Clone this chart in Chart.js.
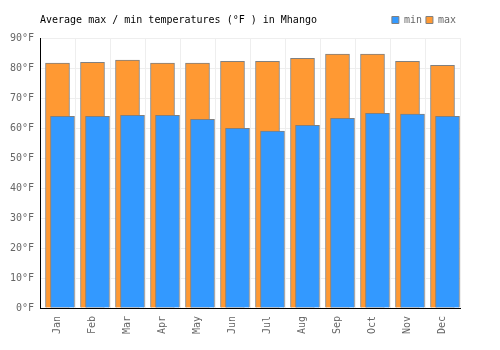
<!DOCTYPE html>
<html>
<head>
<meta charset="utf-8">
<script src="https://cdn.jsdelivr.net/npm/chart.js@4"></script>
<style>
  body { margin: 0; background: #fff; }
</style>
</head>
<body>
<canvas id="tempChart" width="500" height="350"></canvas>
<script>
const months = ["Jan", "Feb", "Mar", "Apr", "May", "Jun", "Jul", "Aug", "Sep", "Oct", "Nov", "Dec"];
const minTemps = [63.9, 63.9, 64.2, 64.2, 62.9, 59.9, 59.0, 60.9, 63.2, 64.9, 64.6, 63.9];
const maxTemps = [81.6, 81.9, 82.6, 81.6, 81.6, 82.2, 82.2, 83.2, 84.6, 84.6, 82.2, 80.9];
const yTicks = [0, 10, 20, 30, 40, 50, 60, 70, 80, 90];
const titleText = "Average max / min temperatures (°F ) in Mhango";

const monoFont = '"DejaVu Sans Mono", monospace';
const shift = 5 / 35; // min bars sit 5px right of the max bars

// title sits on the same line as the legend, on the left
const leftTitle = {
  id: 'leftTitle',
  afterDraw(chart) {
    const c = chart.ctx;
    c.save();
    c.font = '10px ' + monoFont;
    c.fillStyle = '#000';
    c.textBaseline = 'middle';
    c.textAlign = 'left';
    c.fillText(titleText, 40, 20);
    c.restore();
  }
};

const ctx = document.getElementById("tempChart").getContext("2d");
new Chart(ctx, {
  type: "bar",
  data: {
    labels: months,
    datasets: [{
      label: "min",
      data: minTemps.map((v, i) => ({ x: i, y: v })),
      xAxisID: "x2",
      backgroundColor: "rgb(51, 153, 255)",
      borderColor: "rgb(128, 128, 128)",
      borderWidth: 1,
      barThickness: 24,
      grouped: false
    }, {
      label: "max",
      data: maxTemps,
      xAxisID: "x",
      backgroundColor: "rgb(255, 153, 51)",
      borderColor: "rgb(128, 128, 128)",
      borderWidth: 1,
      barThickness: 24,
      grouped: false
    }]
  },
  options: {
    responsive: false,
    animation: false,
    layout: { padding: { left: 0, right: 40, top: 11, bottom: 0 } },
    plugins: {
      tooltip: { enabled: false },
      legend: {
        position: "top",
        align: "end",
        labels: {
          boxWidth: 7,
          boxHeight: 7,
          padding: 4,
          color: "#666",
          font: { family: monoFont, size: 10 }
        }
      }
    },
    scales: {
      x: {
        type: "category",
        offset: true,
        grid: { color: "#eeeeee", offset: true, drawTicks: false },
        border: { color: "#000", width: 1 },
        ticks: {
          color: "#666",
          font: { family: monoFont, size: 10 },
          minRotation: 90,
          maxRotation: 90,
          padding: 8
        },
        afterFit: s => { s.height = 42; }
      },
      x2: {
        type: "linear",
        position: "top",
        offset: false,
        min: -0.5 - shift,
        max: 11.5 - shift,
        grid: { display: false },
        border: { display: false },
        ticks: { display: false },
        afterFit: s => { s.height = 3; }
      },
      y: {
        min: 0,
        max: 90,
        grid: { color: "#eeeeee", drawTicks: false },
        border: { color: "#000", width: 1 },
        ticks: {
          color: "#666",
          font: { family: monoFont, size: 10 },
          padding: 6,
          callback: v => v + "°F"
        },
        afterBuildTicks: s => { s.ticks = yTicks.map(v => ({ value: v })); },
        afterFit: s => { s.width = 40; }
      }
    }
  },
  plugins: [leftTitle]
});
</script>
</body>
</html>
